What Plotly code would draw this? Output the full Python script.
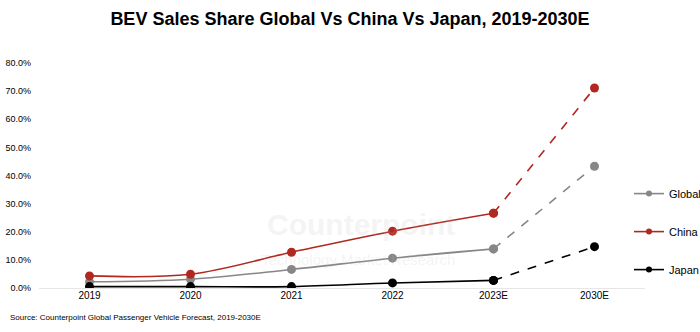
import plotly.graph_objects as go

years = ["2019", "2020", "2021", "2022", "2023E", "2030E"]
global_share = [2.2, 3.1, 6.6, 10.6, 13.9, 43.3]
china_share = [4.3, 4.9, 12.7, 20.2, 26.6, 71.1]
japan_share = [0.5, 0.5, 0.5, 1.8, 2.7, 14.7]
series_names = ["Global", "China", "Japan"]
colors = ["#878787", "#b0281f", "#000000"]

fig = go.Figure()
for i, (name, vals, col) in enumerate(zip(series_names, [global_share, china_share, japan_share], colors)):
    fig.add_trace(go.Scatter(
        x=years[:5], y=vals[:5], mode="lines+markers", name=name,
        line=dict(color=col, width=1.6, shape="spline", smoothing=1.0),
        marker=dict(color=col, size=9), legendgroup=name, showlegend=False,
    ))
    fig.add_trace(go.Scatter(
        x=years[4:], y=vals[4:], mode="lines+markers", name=name,
        line=dict(color=col, width=1.6, dash="dash"),
        marker=dict(color=col, size=9), legendgroup=name, showlegend=False,
    ))
    # legend entry with small marker
    fig.add_trace(go.Scatter(
        x=[None], y=[None], mode="lines+markers", name=name,
        line=dict(color=col, width=1.6), marker=dict(color=col, size=6),
        legendgroup=name, showlegend=True, legendrank=i + 1,
    ))

fig.add_annotation(text="<b>Counterpoint</b>", x=0.69, y=0.2, xref="paper", yref="paper",
                   showarrow=False, font=dict(family="Liberation Sans", size=30, color="rgba(190,190,190,0.18)"))
fig.add_annotation(text="Technology Market Research", x=0.69, y=0.08, xref="paper", yref="paper",
                   showarrow=False, font=dict(family="Liberation Sans", size=15, color="rgba(190,190,190,0.18)"))
fig.add_annotation(text="Source: Counterpoint Global Passenger Vehicle Forecast, 2019-2030E",
                   x=-0.051, y=-0.133, xref="paper", yref="paper", xanchor="left", yanchor="middle",
                   showarrow=False, font=dict(size=8, color="#000000"))

fig.update_layout(
    width=700, height=332,
    margin=dict(l=39, r=55, t=63, b=44, autoexpand=False),
    paper_bgcolor="white", plot_bgcolor="white",
    font=dict(family="Liberation Sans", color="#000000"),
    title=dict(text="<b>BEV Sales Share Global Vs China Vs Japan, 2019-2030E</b>",
               x=0.5, xanchor="center", y=0.945, yanchor="middle",
               font=dict(size=18, color="#000000")),
    xaxis=dict(type="category", range=[-0.5, 5.5], showgrid=False, zeroline=False,
               showline=False, ticks="", tickfont=dict(size=10)),
    yaxis=dict(range=[0, 80], dtick=10, ticksuffix="%", tickformat=".1f",
               showgrid=False, zeroline=True, zerolinecolor="#e6e6e6", zerolinewidth=1,
               showline=False, tickfont=dict(size=9), ticks="", ticklabelstandoff=7),
    legend=dict(x=0.9736, xanchor="left", y=0.484, yanchor="top", traceorder="grouped",
                tracegroupgap=19, font=dict(size=11), itemwidth=30, bgcolor="rgba(0,0,0,0)"),
    showlegend=True,
)
fig.write_html("out.html")
